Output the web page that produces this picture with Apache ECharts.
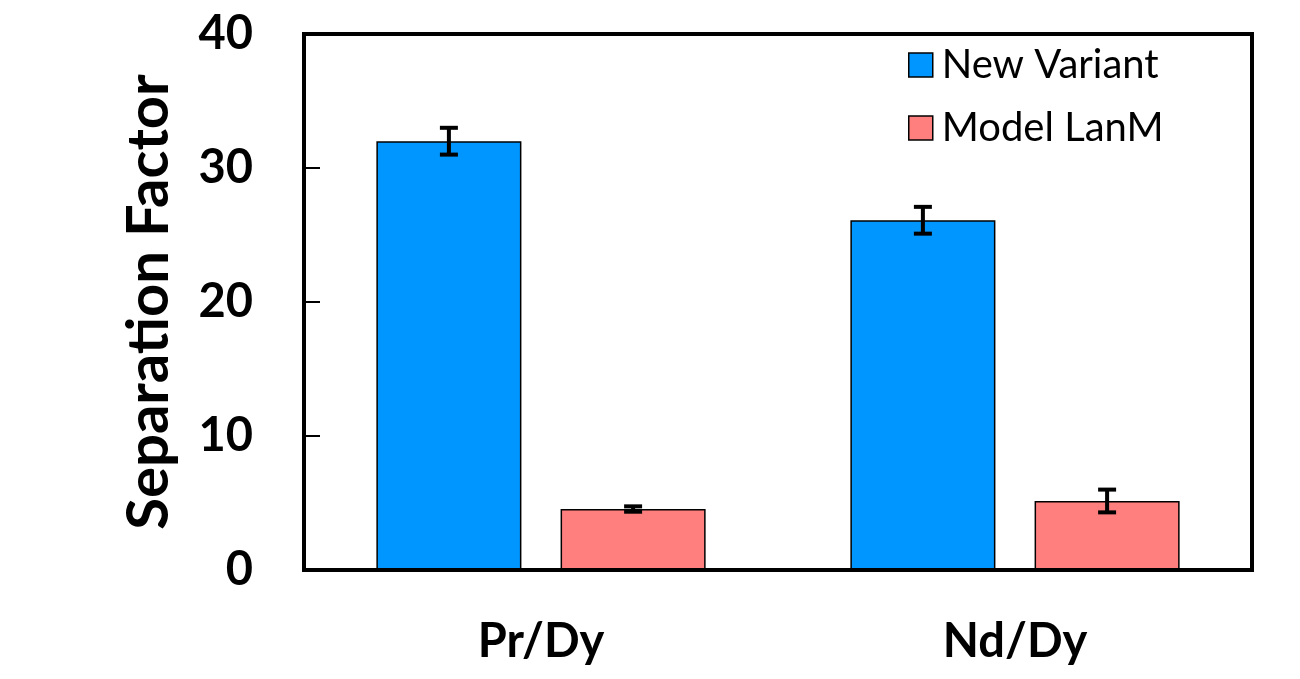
<!DOCTYPE html>
<html lang="en">
  <head>
    <meta charset="UTF-8" />
    <title>Separation Factor</title>
    <script src="https://cdn.jsdelivr.net/npm/echarts@6/dist/echarts.min.js"></script>
    <style>
      body { margin: 0; background: #fff; }
    </style>
  </head>
  <body>
    <div id="main" style="width: 1300px; height: 679px"></div>

    <script>
      // data
      const categories = ['Pr/Dy', 'Nd/Dy']
      const newVariant = [32.0, 26.1]
      const newVariantErr = [1.0, 1.0]
      const modelLanM = [4.55, 5.15]
      const modelLanMErr = [0.2, 0.85]
      const yTicks = [0, 10, 20, 30, 40]

      const barWidthFrac = 0.306 // bar width / band width
      const barGapFrac = 0.27 // gap / bar width

      const chart = echarts.init(document.getElementById('main'))

      // error bar drawn around the bar of one series, side = -1 left bar, +1 right bar
      function errorBar(side) {
        return function (params, api) {
          const band = api.size([1, 0])[0]
          const shift = (side * band * barWidthFrac * (1 + barGapFrac)) / 2
          const mid = api.coord([api.value(0), api.value(1)])
          const hi = api.coord([api.value(0), api.value(1) + api.value(2)])
          const lo = api.coord([api.value(0), api.value(1) - api.value(2)])
          const x = mid[0] + shift
          const cap = 9
          const style = { stroke: '#000', lineWidth: 4 }
          return {
            type: 'group',
            children: [
              { type: 'line', shape: { x1: x, y1: hi[1], x2: x, y2: lo[1] }, style: style },
              { type: 'line', shape: { x1: x - cap, y1: hi[1], x2: x + cap, y2: hi[1] }, style: style },
              { type: 'line', shape: { x1: x - cap, y1: lo[1], x2: x + cap, y2: lo[1] }, style: style },
            ],
          }
        }
      }

      const font = 'Lato'
      const options = {
        animation: false,
        grid: {
          left: 304,
          right: 48,
          top: 34,
          bottom: 109,
          show: true,
          borderColor: '#000',
          borderWidth: 4,
          z: 10,
        },
        legend: {
          data: ['New Variant', 'Model LanM'],
          orient: 'vertical',
          left: 908,
          top: 45,
          padding: 0,
          itemWidth: 24,
          itemHeight: 24,
          itemGap: 23,
          icon: 'rect',
          itemStyle: { borderColor: '#000', borderWidth: 1.5 },
          textStyle: {
            fontFamily: font,
            fontSize: 40,
            color: '#000',
            padding: [0, 0, 0, 4],
          },
        },
        xAxis: {
          type: 'category',
          data: categories,
          axisLine: { show: false },
          axisTick: { show: false },
          axisLabel: {
            fontFamily: font,
            fontWeight: 'bold',
            fontSize: 47,
            color: '#000',
            margin: 48,
            lineHeight: 47,
          },
        },
        yAxis: {
          type: 'value',
          min: yTicks[0],
          max: yTicks[yTicks.length - 1],
          interval: 10,
          name: 'Separation Factor',
          nameLocation: 'middle',
          nameRotate: 90,
          nameGap: 126,
          nameTextStyle: {
            fontFamily: font,
            fontWeight: 'bold',
            fontSize: 58,
            color: '#000',
          },
          splitLine: { show: false },
          axisLine: { show: false },
          axisTick: { show: true, inside: true, length: 16, lineStyle: { color: '#000', width: 2 } },
          axisLabel: {
            fontFamily: font,
            fontWeight: 'bold',
            fontSize: 47,
            color: '#000',
            margin: 51,
          },
        },
        series: [
          {
            name: 'New Variant',
            type: 'bar',
            data: newVariant,
            barWidth: (barWidthFrac * 100).toFixed(1) + '%',
            barGap: (barGapFrac * 100).toFixed(0) + '%',
            itemStyle: { color: '#0096ff', borderColor: '#000', borderWidth: 1.5 },
          },
          {
            name: 'Model LanM',
            type: 'bar',
            data: modelLanM,
            barWidth: (barWidthFrac * 100).toFixed(1) + '%',
            barGap: (barGapFrac * 100).toFixed(0) + '%',
            itemStyle: { color: '#ff7f7f', borderColor: '#000', borderWidth: 1.5 },
          },
          {
            type: 'custom',
            renderItem: errorBar(-1),
            data: newVariant.map((v, i) => [i, v, newVariantErr[i]]),
            encode: { x: 0, y: 1 },
            z: 5,
          },
          {
            type: 'custom',
            renderItem: errorBar(1),
            data: modelLanM.map((v, i) => [i, v, modelLanMErr[i]]),
            encode: { x: 0, y: 1 },
            z: 5,
          },
        ],
      }
      chart.setOption(options)
    </script>
  </body>
</html>
